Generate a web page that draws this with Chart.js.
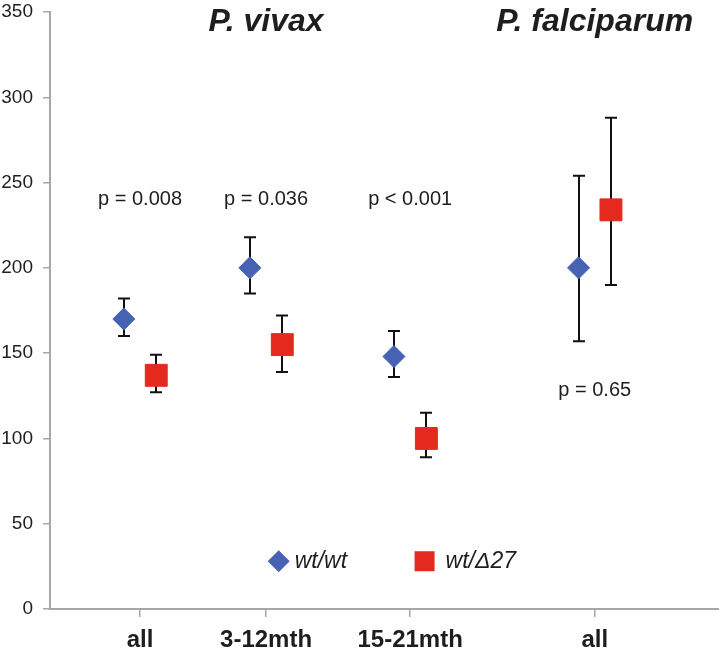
<!DOCTYPE html>
<html>
<head>
<meta charset="utf-8">
<script src="https://cdn.jsdelivr.net/npm/chart.js@4.4.1/dist/chart.umd.min.js"></script>
<style>
  html, body { margin: 0; padding: 0; background: #fff; }
  #wrap { width: 719px; height: 659px; }
</style>
</head>
<body>
<div id="wrap"><canvas id="chart"></canvas></div>
<script>
// data
const categories = ['all', '3-12mth', '15-21mth', 'all'];
const categoryX = [1, 2.4, 4, 6.05];
const seriesNames = ['wt/wt', 'wt/\u039427'];
const wtMean = [170, 200, 148, 200];
const wtUpper = [182, 218, 163, 254];
const wtLower = [160, 185, 136, 157];
const delMean = [137, 155, 100, 234];
const delUpper = [149, 172, 115, 288];
const delLower = [127, 139, 89, 190];
const pValues = ['p = 0.008', 'p = 0.036', 'p < 0.001', 'p = 0.65'];
const pValueY = [240, 240, 240, 128];
const speciesTitles = ['P. vivax', 'P. falciparum'];
const speciesAt = [1, 3]; // index into categoryX

const BLUE = '#4762b2';
const RED = '#e42a1f';
const AXIS = '#a6a6a6';
const TEXT = '#1e1e1e';
const FONT = '"Liberation Sans", Arial, sans-serif';
const dodge = 0.18;

Chart.defaults.font.family = FONT;

function points(mean, lo, hi, shift) {
  return categoryX.map((x, i) => ({ x: x + shift, y: mean[i], lo: lo[i], hi: hi[i] }));
}

const errorBars = {
  id: 'errorBars',
  beforeDatasetsDraw(chart) {
    const { ctx, scales: { x, y } } = chart;
    ctx.save();
    ctx.strokeStyle = '#111';
    ctx.lineWidth = 2;
    chart.data.datasets.forEach(ds => {
      ds.data.forEach(p => {
        const px = Math.round(x.getPixelForValue(p.x));
        const top = y.getPixelForValue(p.hi);
        const bot = y.getPixelForValue(p.lo);
        ctx.beginPath();
        ctx.moveTo(px, top); ctx.lineTo(px, bot);
        ctx.moveTo(px - 6, top); ctx.lineTo(px + 6, top);
        ctx.moveTo(px - 6, bot); ctx.lineTo(px + 6, bot);
        ctx.stroke();
      });
    });
    ctx.restore();
  }
};

const annotations = {
  id: 'annotations',
  afterDraw(chart) {
    const { ctx, scales: { x, y } } = chart;
    ctx.save();
    ctx.fillStyle = TEXT;
    ctx.textAlign = 'center';
    ctx.textBaseline = 'middle';

    // p values
    ctx.font = '20px ' + FONT;
    pValues.forEach((t, i) => {
      ctx.fillText(t, x.getPixelForValue(categoryX[i]), y.getPixelForValue(pValueY[i]));
    });

    // species titles
    ctx.font = 'italic bold 32px ' + FONT;
    speciesTitles.forEach((t, i) => {
      ctx.fillText(t, x.getPixelForValue(categoryX[speciesAt[i]]), y.getPixelForValue(344));
    });

    // legend inside the plot
    const ly = y.getPixelForValue(28);
    const dx = x.getPixelForValue(2.54);
    const sx = x.getPixelForValue(4.16);
    ctx.fillStyle = BLUE;
    ctx.beginPath();
    ctx.moveTo(dx - 11, ly); ctx.lineTo(dx, ly - 11);
    ctx.lineTo(dx + 11, ly); ctx.lineTo(dx, ly + 11);
    ctx.closePath();
    ctx.fill();
    ctx.fillStyle = RED;
    ctx.fillRect(sx - 10, ly - 10, 20, 20);

    ctx.fillStyle = TEXT;
    ctx.textAlign = 'left';
    ctx.font = 'italic 23px ' + FONT;
    ctx.fillText(seriesNames[0], dx + 16, ly);
    ctx.fillText(seriesNames[1], sx + 21, ly);
    ctx.restore();
  }
};

new Chart(document.getElementById('chart'), {
  type: 'scatter',
  data: {
    datasets: [
      {
        label: seriesNames[0],
        data: points(wtMean, wtLower, wtUpper, -dodge),
        pointStyle: 'rectRot',
        pointRadius: 11,
        pointHoverRadius: 11,
        backgroundColor: BLUE,
        borderColor: BLUE,
        borderWidth: 1
      },
      {
        label: seriesNames[1],
        data: points(delMean, delLower, delUpper, dodge),
        pointStyle: 'rect',
        pointRadius: 15.5,
        pointHoverRadius: 15.5,
        backgroundColor: RED,
        borderColor: RED,
        borderWidth: 1
      }
    ]
  },
  options: {
    responsive: true,
    maintainAspectRatio: false,
    animation: false,
    layout: { autoPadding: false, padding: { top: 12, right: 0, bottom: 0, left: 0 } },
    plugins: {
      legend: { display: false },
      tooltip: { enabled: false }
    },
    scales: {
      x: {
        type: 'linear',
        min: 0,
        max: 7.43,
        afterBuildTicks: s => { s.ticks = categoryX.map(v => ({ value: v })); },
        afterFit: s => {
          s.height = 50;
          s.paddingLeft = 0;
          s.paddingRight = 0;
        },
        grid: { drawOnChartArea: false, tickLength: 8, color: AXIS, lineWidth: 1.5 },
        border: { color: AXIS, width: 2 },
        ticks: {
          callback: (v, i) => categories[i],
          font: { size: 24, weight: 'bold' },
          color: TEXT,
          padding: 9,
          maxRotation: 0,
          autoSkip: false
        }
      },
      y: {
        min: 0,
        max: 350,
        afterFit: s => {
          s.width = 50;
          s.paddingTop = 0;
          s.paddingBottom = 0;
        },
        grid: { drawOnChartArea: false, tickLength: 7, color: AXIS, lineWidth: 1.5 },
        border: { color: AXIS, width: 2 },
        ticks: { stepSize: 50, font: { size: 19 }, color: TEXT, padding: 10 }
      }
    }
  },
  plugins: [errorBars, annotations]
});
</script>
</body>
</html>
